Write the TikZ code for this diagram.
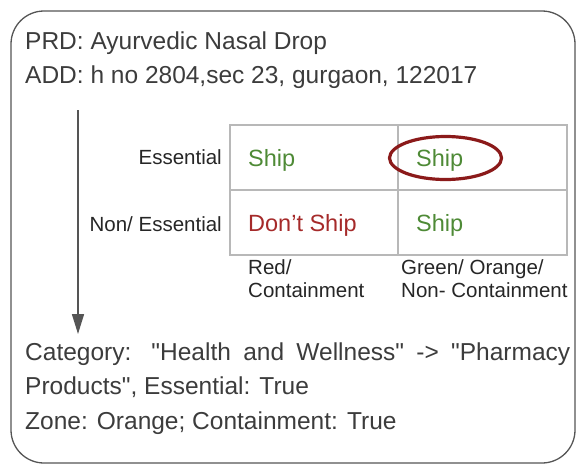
\documentclass[tikz,border=0pt]{standalone}
\usepackage{fontspec}
\setmainfont{Liberation Sans}[Ligatures=TeXOff]
\usetikzlibrary{arrows.meta}
\definecolor{txt}{HTML}{3C3C3C}
\definecolor{grn}{HTML}{4E8A36}
\definecolor{dred}{HTML}{A52A2A}
\definecolor{ering}{HTML}{8B1A1A}
\definecolor{grid}{HTML}{B8B8B8}
\definecolor{arr}{HTML}{555555}
\tikzset{
  big/.style={font=\fontsize{24.5}{34}\selectfont, text=txt, inner sep=0pt, anchor=base west},
  cell/.style={font=\fontsize{23.5}{28}\selectfont, inner sep=0pt, anchor=base west},
  lbl/.style={font=\fontsize{20.5}{24}\selectfont, text=black!85, inner sep=0pt},
  gridline/.style={draw=grid, line width=1.4pt},
}
\begin{document}
\begin{tikzpicture}[x=1pt,y=-1pt]
\useasboundingbox (0,0) rectangle (588,474);
\draw[line width=1.3pt, draw=arr, rounded corners=33pt] (11,11) rectangle (575,463);
\node[big] (prd) at (25,49) {PRD: Ayurvedic Nasal Drop};
\node[big] (add) at (25,83) {ADD: h no 2804,sec 23, gurgaon, 122017};
% table
\draw[gridline] (230,125) rectangle (567,255);
\draw[gridline] (398,125) -- (398,255);
\draw[gridline] (230,190) -- (567,190);
\node[lbl, anchor=base east] (ess) at (222,164) {Essential};
\node[lbl, anchor=base east] (ness) at (222,231) {Non/ Essential};
\node[cell, text=grn] (s1) at (248,166) {Ship};
\node[cell, text=grn] (s2) at (416,166) {Ship};
\node[cell, text=dred] (ds) at (248,231) {Don’t Ship};
\node[cell, text=grn] (s3) at (416,231) {Ship};
\draw[ering, line width=3.2pt] (445.5,158) ellipse [x radius=56pt, y radius=21.5pt];
\node[lbl, anchor=base west] (red1) at (248,274) {Red/};
\node[lbl, anchor=base west] (red2) at (248,297) {Containment};
\node[lbl, anchor=base west] (grn1) at (401,274) {Green/ Orange/};
\node[lbl, anchor=base west] (grn2) at (401,297) {Non- Containment};
% arrow
\coordinate (a1) at (78,110);
\coordinate (a2) at (78,334);
\draw[arr, line width=1.6pt, -{Triangle[length=20pt,width=12pt]}] (a1) -- (a2);
% bottom text
\node[big, anchor=base west, text width=545pt, align=justify] (cat) at (25,360)
  {\hyphenpenalty=10000\exhyphenpenalty=10000 Category: "Health and Wellness" -> "Pharmacy Products", Essential: True};
\node[big] (zone) at (25,429) {Zone: Orange; Containment: True};
\end{tikzpicture}
\end{document}
